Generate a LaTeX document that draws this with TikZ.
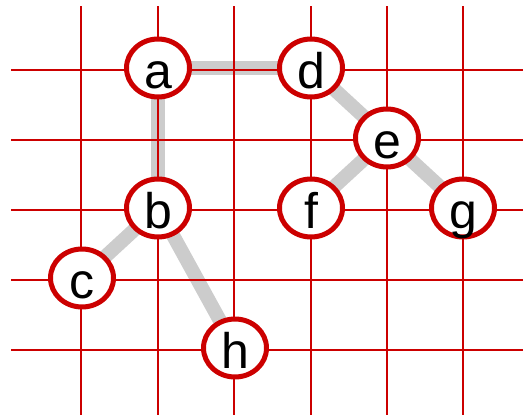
\documentclass[tikz,border=0pt]{standalone}
\usepackage{fontspec}
\setmainfont{Liberation Sans}
\usetikzlibrary{shapes.geometric,backgrounds}
\definecolor{gridred}{HTML}{CC0000}
\definecolor{edgegray}{HTML}{CCCCCC}

\begin{document}
\begin{tikzpicture}[
  x=1pt, y=-1pt,
  gridline/.style={draw=gridred, line width=2pt},
  vtx/.style={ellipse, draw=gridred, fill=white, line width=5pt, minimum width=63pt,
              minimum height=57pt, inner sep=0pt, text height=41pt, text depth=0pt,
              font=\fontsize{50}{50}\selectfont, text=black},
  link/.style={draw=edgegray, line width=14pt},
]
  \useasboundingbox (0,0) rectangle (523,415);
  % grid
  \foreach \gx in {81,158,234,311,387,463}
    \draw[gridline] (\gx,6) -- (\gx,415);
  \foreach \gy in {70,140,210,280,350}
    \draw[gridline] (11,\gy) -- (523,\gy);
  % vertices
  \node[vtx] (a) at (158,68) {a};
  \node[vtx] (d) at (311,68) {d};
  \node[vtx] (e) at (387,138) {e};
  \node[vtx] (b) at (158,208) {b};
  \node[vtx] (f) at (311,208) {f};
  \node[vtx] (g) at (463,208) {g};
  \node[vtx] (c) at (82,278) {c};
  \node[vtx] (h) at (235,348) {h};
  % edges
  \begin{scope}[on background layer]
    \foreach \u/\v in {a/d, a/b, d/e, e/f, e/g, b/c, b/h}
      \draw[link] (\u.center) -- (\v.center);
  \end{scope}
\end{tikzpicture}
\end{document}
